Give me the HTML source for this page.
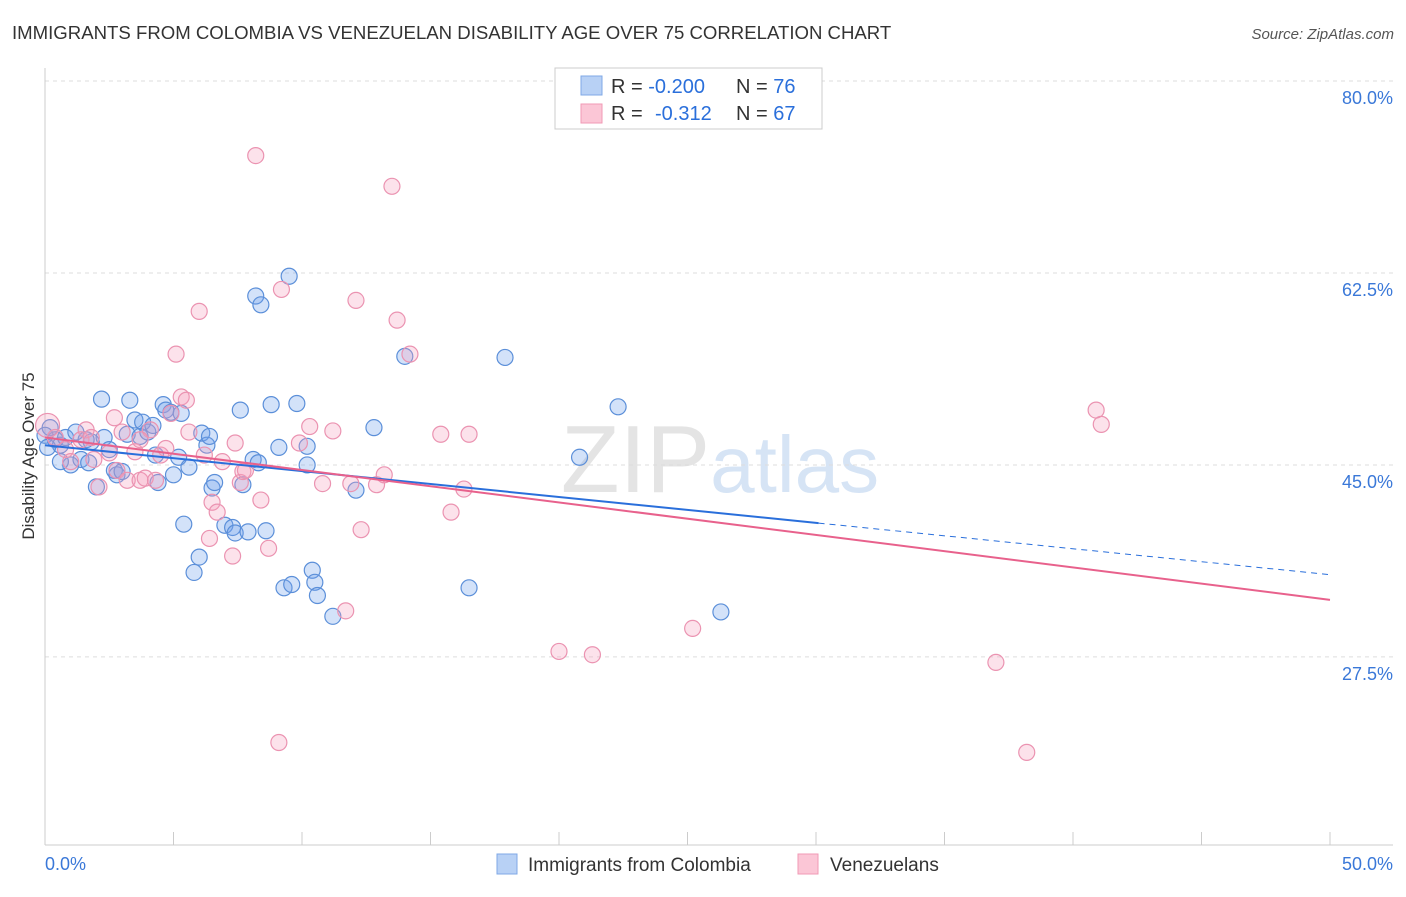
<!DOCTYPE html>
<html><head><meta charset="utf-8">
<style>
body{margin:0;background:#fff;font-family:"Liberation Sans",sans-serif;}
svg text{font-family:"Liberation Sans",sans-serif;}
</style></head>
<body>
<svg id="chart" width="1406" height="892" xmlns="http://www.w3.org/2000/svg">
<text x="12" y="39" font-size="18.6" fill="#333">IMMIGRANTS FROM COLOMBIA VS VENEZUELAN DISABILITY AGE OVER 75 CORRELATION CHART</text>
<text x="1394" y="39" font-size="15" fill="#555" text-anchor="end" font-style="italic">Source: ZipAtlas.com</text>
<text x="720" y="492" font-size="96" fill="#e4e4e4" text-anchor="middle" font-family="Liberation Serif">ZIP<tspan fill="#d6e4f5" font-family="Liberation Sans" font-size="80">atlas</tspan></text>
<text transform="translate(34,456) rotate(-90)" font-size="17" fill="#333" text-anchor="middle">Disability Age Over 75</text>
<g id="grid"></g><g id="axes"></g><g id="pts"></g><g id="lines"></g>
<g>
<rect x="555" y="68" width="267" height="61" fill="#fff" stroke="#ccc"/>
<rect x="581" y="76" width="21" height="19" fill="#b8d1f5" stroke="#7fa8e6"/>
<rect x="581" y="104" width="21" height="19" fill="#fbc6d6" stroke="#f09ab5"/>
<text x="611" y="93" font-size="20" fill="#333">R = <tspan fill="#2a6fdb">-0.200</tspan><tspan x="736">N = </tspan><tspan fill="#2a6fdb">76</tspan></text>
<text x="611" y="120" font-size="20" fill="#333">R = <tspan x="655" fill="#2a6fdb">-0.312</tspan><tspan x="736">N = </tspan><tspan fill="#2a6fdb">67</tspan></text>
</g>
<g>
<rect x="497" y="854" width="20" height="20" fill="#b8d1f5" stroke="#7fa8e6"/>
<text x="528" y="871" font-size="19" fill="#333">Immigrants from Colombia</text>
<rect x="798" y="854" width="20" height="20" fill="#fbc6d6" stroke="#f09ab5"/>
<text x="830" y="871" font-size="19" fill="#333">Venezuelans</text>
</g>
</svg>
<script>
const yTicks=[80,62.5,45,27.5];
const yTickLabels=["80.0%","62.5%","45.0%","27.5%"];
const xTickVals=[0,5,10,15,20,25,30,35,40,45,50];
const blueX=[0.2,0.4,0.6,0.8,1.0,1.2,1.4,1.7,1.8,2.0,2.2,2.3,2.5,2.7,2.8,3.0,3.2,3.3,3.5,3.7,3.8,4.0,4.2,4.3,4.4,4.6,4.7,4.9,5.0,5.2,5.3,5.4,5.6,5.8,6.0,6.1,6.3,6.4,6.5,6.6,7.0,7.3,7.4,7.6,7.7,7.9,8.1,8.2,8.3,8.4,8.6,8.8,9.1,9.3,9.5,9.6,9.8,10.2,10.2,10.4,10.5,10.6,11.2,12.1,12.8,14.0,16.5,17.9,20.8,22.3,26.3,0.0,0.1,0.6,1.6];
const blueY=[48.4,47.3,46.8,47.5,45.0,48.0,45.5,45.2,47.1,43.0,51.0,47.5,46.4,44.5,44.1,44.4,47.8,50.9,49.1,47.6,48.9,48.0,48.6,45.9,43.4,50.5,50.0,49.8,44.1,45.7,49.7,39.6,44.8,35.2,36.6,47.9,46.8,47.6,42.9,43.4,39.5,39.3,38.8,50.0,43.2,38.9,45.5,60.4,45.2,59.6,39.0,50.5,46.6,33.8,62.2,34.1,50.6,46.7,45.0,35.4,34.3,33.1,31.2,42.7,48.4,54.9,33.8,54.8,45.7,50.3,31.6,47.7,46.6,45.3,47.3];
const pinkX=[0.1,0.4,0.8,1.0,1.4,1.6,1.8,2.1,2.5,2.7,2.8,3.0,3.2,3.5,3.7,3.9,4.1,4.3,4.5,4.7,4.9,5.1,5.3,5.5,5.6,6.0,6.2,6.4,6.5,6.7,6.9,7.3,7.6,7.7,7.8,8.2,8.4,8.7,9.1,9.2,9.9,10.3,10.8,11.2,11.7,11.9,12.1,12.3,12.9,13.2,13.5,13.7,14.2,15.4,15.8,16.3,16.5,20.0,21.3,25.2,37.0,38.2,40.9,41.1,3.7,1.9,7.4];
const pinkY=[48.6,47.5,46.4,45.3,47.3,48.2,47.5,43.0,46.1,49.3,44.5,48.0,43.6,46.2,43.6,43.8,48.2,43.6,45.9,46.5,49.7,55.1,51.2,50.9,48.0,59.0,45.9,38.3,41.6,40.7,45.3,36.7,43.4,44.4,44.5,73.2,41.8,37.4,19.7,61.0,47.0,48.5,43.3,48.1,31.7,43.3,60.0,39.1,43.2,44.1,70.4,58.2,55.1,47.8,40.7,42.8,47.8,28.0,27.7,30.1,27.0,18.8,50.0,48.7,47.3,45.5,47.0];
const blueTrend=[[0,46.8],[30.1,39.7],[50,35.0]];
const pinkTrend=[[0,47.5],[50,32.7]];
const NS="http://www.w3.org/2000/svg";
const X=v=>45+v*25.7, Y=v=>81+(80-v)*10.97;
function mk(t,a,p){const e=document.createElementNS(NS,t);for(const k in a)e.setAttribute(k,a[k]);p.appendChild(e);return e;}
const grid=document.getElementById('grid'),axes=document.getElementById('axes'),pts=document.getElementById('pts'),lines=document.getElementById('lines');
yTicks.forEach((v,i)=>{
 const l=mk('line',{x1:45,x2:1393,y1:Y(v),y2:Y(v),stroke:'#ddd','stroke-dasharray':'4,4'},grid);
 
 
 const t=mk('text',{x:1393,y:Y(v)+23,'font-size':18,fill:'#3a78d8','text-anchor':'end'},axes);
 t.textContent=yTickLabels[i];
 
 
});
const ax=mk('line',{x1:45,x2:45,y1:68,y2:845,stroke:'#ccc'},axes);


const bx=mk('line',{x1:45,x2:1393,y1:845,y2:845,stroke:'#ccc'},axes);


xTickVals.forEach(v=>{
 const t=mk('line',{x1:X(v),x2:X(v),y1:832,y2:845,stroke:'#ccc'},axes);
 
 
});
const xl=mk('text',{x:45,y:870,'font-size':18,fill:'#3a78d8'},axes);xl.textContent=xTickVals[0].toFixed(1)+'%';


const xr=mk('text',{x:1393,y:870,'font-size':18,fill:'#3a78d8','text-anchor':'end'},axes);xr.textContent=xTickVals[xTickVals.length-1].toFixed(1)+'%';


blueX.forEach((v,i)=>{
 const c=mk('circle',{cx:X(v),cy:Y(blueY[i]),r:8,fill:'rgba(110,160,235,0.3)',stroke:'#5b8fd9','stroke-width':1.2},pts);
 
 
});
pinkX.forEach((v,i)=>{
 const c=mk('circle',{cx:X(v),cy:Y(pinkY[i]),r:i===0?12:8,fill:'rgba(245,160,190,0.3)',stroke:'#eb93b1','stroke-width':1.2},pts);
 
 
});
const b1=mk('line',{x1:X(blueTrend[0][0]),y1:Y(blueTrend[0][1]),x2:X(blueTrend[1][0]),y2:Y(blueTrend[1][1]),stroke:'#2a6fdb','stroke-width':2},lines);


const b2=mk('line',{x1:X(blueTrend[1][0]),y1:Y(blueTrend[1][1]),x2:X(blueTrend[2][0]),y2:Y(blueTrend[2][1]),stroke:'#2a6fdb','stroke-width':1,'stroke-dasharray':'6,5'},lines);


const p1=mk('line',{x1:X(pinkTrend[0][0]),y1:Y(pinkTrend[0][1]),x2:X(pinkTrend[1][0]),y2:Y(pinkTrend[1][1]),stroke:'#e8618c','stroke-width':2},lines);


</script>
</body></html>
